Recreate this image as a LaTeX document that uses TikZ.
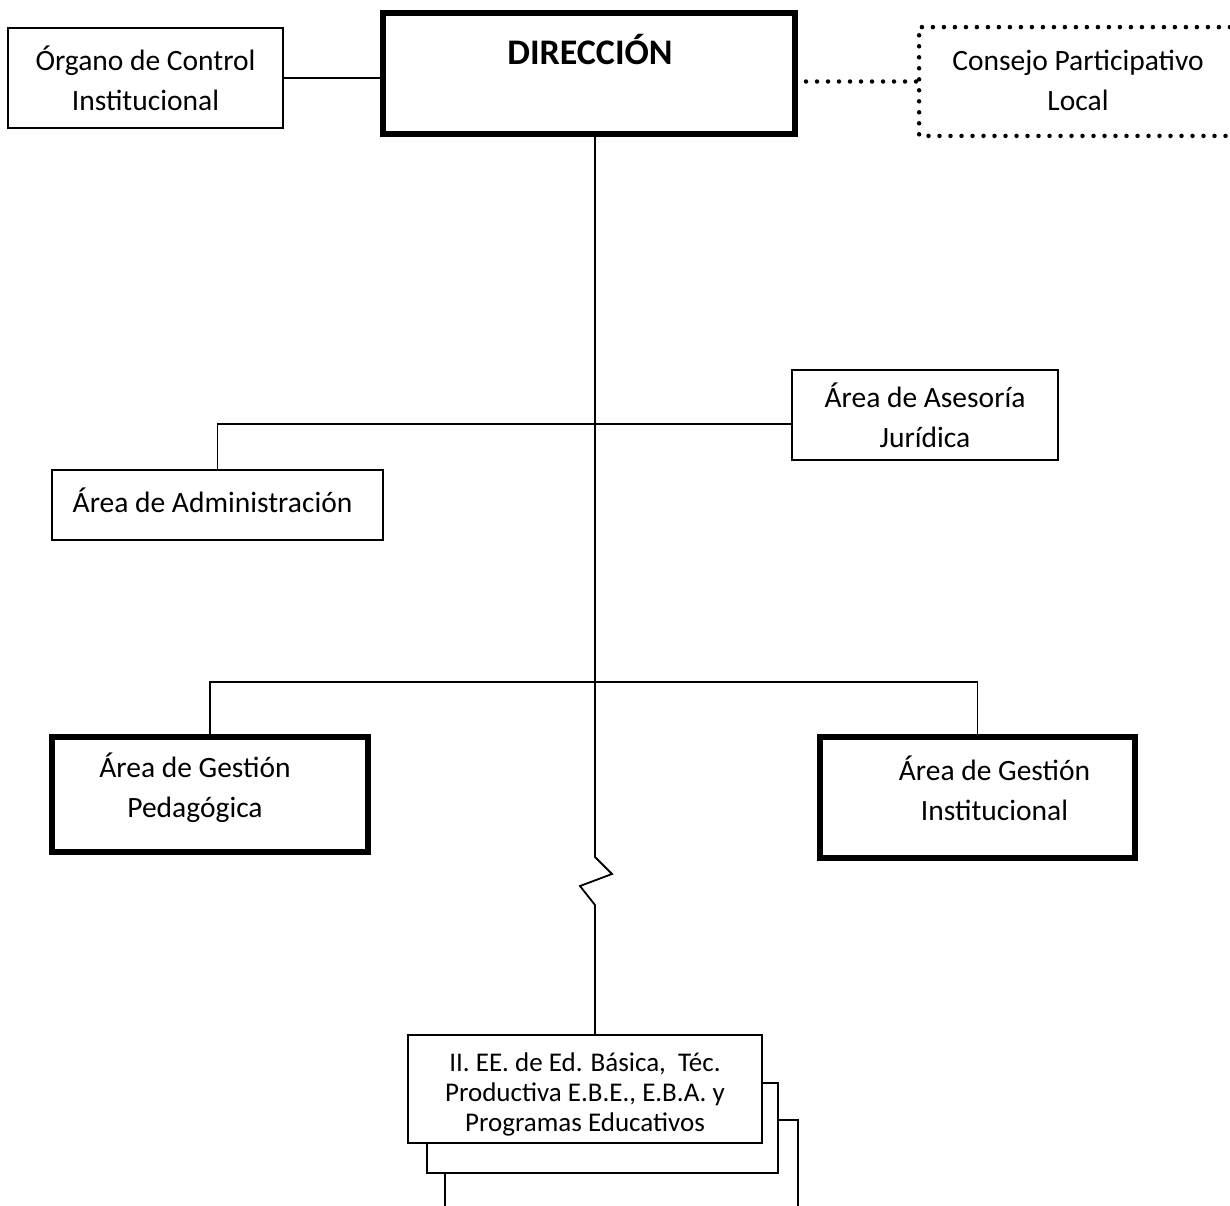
\documentclass[tikz,border=0pt]{standalone}
\usepackage{fontspec}
\setmainfont{Carlito}
\begin{document}
\begin{tikzpicture}[x=1pt,y=-1pt,
  thin box/.style={draw, line width=1.8pt, fill=white, inner sep=0pt, align=center, font=\fontsize{29.5}{40}\selectfont},
  thick box/.style={thin box, line width=6pt},
  dot box/.style={thin box, draw=none},
  small box/.style={thin box, font=\fontsize{27}{30}\selectfont},
  conn/.style={line width=1.8pt},
  dotline/.style={line width=4.5pt, dash pattern=on 0pt off 11pt, line cap=round}]
\useasboundingbox (0,0) rectangle (1230,1205);
\clip (0,0) rectangle (1230,1205);
% top row
\node[thin box, minimum width=275pt, minimum height=100pt] (org) at (145.5,78) {Órgano de Control\\Institucional};
\node[thick box, minimum width=412pt, minimum height=121pt] (dir) at (589,73.5) {};
\node[font=\fontsize{36}{40}\selectfont\bfseries] (dirtext) at (590,50) {DIRECCIÓN};
\node[dot box, minimum width=320pt, minimum height=107pt] (cons) at (1080,81.5) {};
\draw[dotline] (cons.north east) -- (cons.north west) -- (cons.south west) -- (cons.south east);
\node[font=\fontsize{29.5}{40}\selectfont, align=center] (constext) at (1078,80) {Consejo Participativo\\Local};
% side boxes
\node[thin box, minimum width=266pt, minimum height=90pt] (ases) at (925,415) {Área de Asesoría\\Jurídica};
\node[thin box, minimum width=331pt, minimum height=70pt,
  label={[font=\fontsize{29.5}{40}\selectfont, xshift=-5pt, yshift=5pt]center:Área de Administración}] (adm) at (217.5,505) {};
\node[thick box, minimum width=316pt, minimum height=115pt,
  label={[font=\fontsize{29.5}{40}\selectfont, align=center, xshift=-15pt, yshift=7pt]center:Área de Gestión\\Pedagógica}] (ped) at (210,794.5) {};
\node[thick box, minimum width=315pt, minimum height=121pt,
  label={[font=\fontsize{29.5}{40}\selectfont, align=center, xshift=17pt, yshift=9pt]center:Área de Gestión\\Institucional}] (inst) at (977.5,797.5) {};
% stacked boxes at bottom
\node[thin box, minimum width=353pt, minimum height=120pt] (ie3) at (621.5,1180) {};
\node[thin box, minimum width=351pt, minimum height=90pt] (ie2) at (602.5,1128) {};
\node[small box, minimum width=354pt, minimum height=108pt] (ie1) at (585,1089) {};
\node[font=\fontsize{27}{30}\selectfont, align=center] (ie1text) at (585,1094) {II. EE. de Ed. Básica,~ Téc.\\Productiva E.B.E., E.B.A. y\\Programas Educativos};
% connectors
\draw[conn] (org.east) -- (org.east -| dir.west);
\draw[dotline] (dir.east |- cons.west) ++(8,0) -- (cons.west);
\draw[conn] (dir.south) ++(6,0) -- ++(0,720) -- ++(17,17) -- ++(-32,12) -- ++(15,19) -- (ie1.north -| 595,0);
\draw[conn] (adm.north) |- (ases.west |- 0,424);
\draw[conn] (ped.north) -- ++(0,-52) -| (inst.north);
\end{tikzpicture}
\end{document}
